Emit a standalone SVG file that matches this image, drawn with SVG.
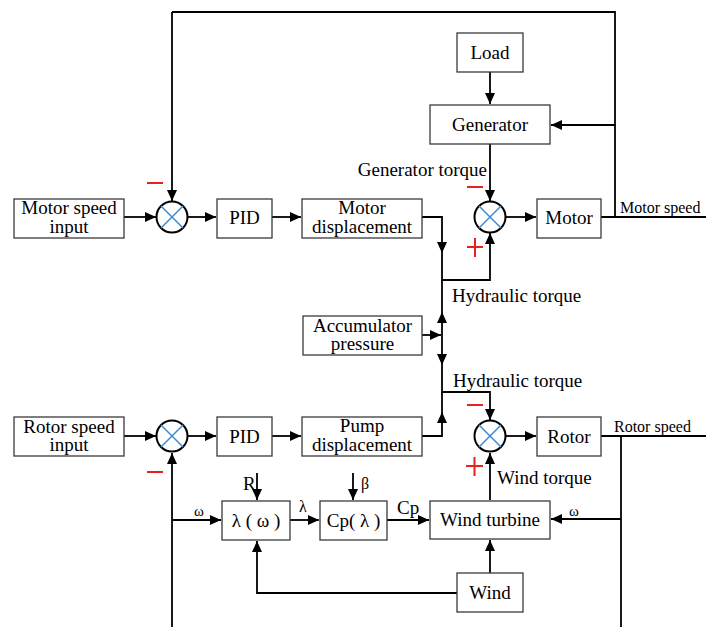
<svg xmlns="http://www.w3.org/2000/svg" width="706" height="627" viewBox="0 0 706 627">
<defs>
<marker id="ah" markerUnits="userSpaceOnUse" markerWidth="12" markerHeight="10" refX="11" refY="5" orient="auto">
<path d="M0,0 L11,5 L0,10 Z" fill="#000"/>
</marker>
<style>
.box{fill:#fff;stroke:#3a3a3a;stroke-width:1.3}
.t{font-family:"Liberation Serif","Times New Roman","DejaVu Serif",serif;font-size:19px;fill:#000;text-anchor:middle}
.l{font-family:"Liberation Serif","Times New Roman","DejaVu Serif",serif;font-size:19px;fill:#000}
.s{font-family:"Liberation Serif","Times New Roman","DejaVu Serif",serif;font-size:16px;fill:#000}
.w{font-family:"Liberation Serif","Times New Roman","DejaVu Serif",serif;font-size:15px;fill:#000}
.c{fill:none;stroke:#000;stroke-width:1.8}
.a{fill:none;stroke:#000;stroke-width:1.8;marker-end:url(#ah)}
.sum{fill:#fff;stroke:#000;stroke-width:2}
.x{stroke:#3c8ad0;stroke-width:1.5}
.r{stroke:#e8211d;stroke-width:2;fill:none}
</style>
</defs>
<g id="connectors">
<path class="c" d="M172,12 H615 V217"/>
<path class="a" d="M172,12 V201"/>
<path class="a" d="M615,125 H551"/>
<path class="a" d="M490,72 V104"/>
<path class="a" d="M490,144 V201"/>
<path class="c" d="M601,217 H706"/>
<path class="a" d="M124,217 H156"/>
<path class="a" d="M188,217 H216"/>
<path class="a" d="M272,217 H301"/>
<path class="a" d="M506,217 H536"/>
<path class="a" d="M422,217 H442 V253"/>
<path class="a" d="M442,253 V280 H490 V233"/>
<path class="a" d="M422,335 H441"/>
<path class="a" d="M442,335 V312"/>
<path class="c" d="M442,312 V280"/>
<path class="a" d="M442,335 V365"/>
<path class="a" d="M442,365 V392 H490 V420"/>
<path class="a" d="M422,436 H442 V412"/>
<path class="c" d="M442,412 V392"/>
<path class="a" d="M124,436 H156"/>
<path class="a" d="M188,436 H216"/>
<path class="a" d="M272,436 H301"/>
<path class="a" d="M506,436 H536"/>
<path class="c" d="M601,436 H706"/>
<path class="c" d="M621,436 V627"/>
<path class="a" d="M621,519 H551"/>
<path class="a" d="M490,500 V453"/>
<path class="a" d="M490,573 V540"/>
<path class="a" d="M457,593 H257 V541"/>
<path class="a" d="M172,627 V453"/>
<path class="a" d="M172,520 H221"/>
<path class="a" d="M290,520 H319"/>
<path class="a" d="M387,520 H429"/>
<path class="a" d="M257,473 V500"/>
<path class="a" d="M353,473 V500"/>
</g>
<g id="sum1"><circle class="sum" cx="172" cy="217" r="15.5"/><path class="x" d="M161,206 L183,228 M183,206 L161,228"/></g>
<g id="sum2"><circle class="sum" cx="490" cy="217" r="15.5"/><path class="x" d="M479,206 L501,228 M501,206 L479,228"/></g>
<g id="sum3"><circle class="sum" cx="172" cy="436" r="15.5"/><path class="x" d="M161,425 L183,447 M183,425 L161,447"/></g>
<g id="sum4"><circle class="sum" cx="490" cy="436" r="15.5"/><path class="x" d="M479,425 L501,447 M501,425 L479,447"/></g>
<g id="signs">
<path class="r" d="M147,183 H163"/>
<path class="r" d="M467,187 H483"/>
<path class="r" d="M467,247 H483 M475,238 V257"/>
<path class="r" d="M467,405 H483"/>
<path class="r" d="M466,466 H483 M474.5,457 V476"/>
<path class="r" d="M147,472 H163"/>
</g>
<g id="load"><rect class="box" x="457" y="33" width="66" height="39"/><text class="t" x="490" y="59">Load</text></g>
<g id="generator"><rect class="box" x="430" y="105" width="120" height="39"/><text class="t" x="490" y="131">Generator</text></g>
<g id="motor-speed-input"><rect class="box" x="14" y="199" width="110" height="39"/><text class="t" x="69" y="214">Motor speed</text><text class="t" x="69" y="232.5">input</text></g>
<g id="pid1"><rect class="box" x="217" y="199" width="55" height="39"/><text class="t" x="244.5" y="224">PID</text></g>
<g id="motor-displacement"><rect class="box" x="302" y="199" width="120" height="39"/><text class="t" x="362" y="214">Motor</text><text class="t" x="362" y="232.5">displacement</text></g>
<g id="motor"><rect class="box" x="537" y="199" width="64" height="39"/><text class="t" x="569" y="224">Motor</text></g>
<g id="accumulator"><rect class="box" x="303" y="316" width="119" height="39"/><text class="t" x="362.5" y="331.5">Accumulator</text><text class="t" x="362.5" y="349.5">pressure</text></g>
<g id="rotor-speed-input"><rect class="box" x="14" y="417" width="110" height="39"/><text class="t" x="69" y="432.5">Rotor speed</text><text class="t" x="69" y="450.5">input</text></g>
<g id="pid2"><rect class="box" x="217" y="417" width="55" height="39"/><text class="t" x="244.5" y="443">PID</text></g>
<g id="pump-displacement"><rect class="box" x="302" y="417" width="120" height="39"/><text class="t" x="362" y="432">Pump</text><text class="t" x="362" y="450.5">displacement</text></g>
<g id="rotor"><rect class="box" x="537" y="417" width="64" height="39"/><text class="t" x="569" y="443">Rotor</text></g>
<g id="lambda"><rect class="box" x="222" y="501" width="68" height="39"/><text class="t" x="256" y="527">λ ( ω )</text></g>
<g id="cp"><rect class="box" x="320" y="501" width="67" height="39"/><text class="t" x="353.5" y="527">Cp( λ )</text></g>
<g id="wind-turbine"><rect class="box" x="430" y="501" width="120" height="38"/><text class="t" x="490" y="526">Wind turbine</text></g>
<g id="wind"><rect class="box" x="457" y="573" width="66" height="39"/><text class="t" x="490" y="599">Wind</text></g>
<g id="labels">
<text class="l" x="487" y="176" text-anchor="end">Generator torque</text>
<text class="l" x="452" y="302">Hydraulic torque</text>
<text class="l" x="453" y="387">Hydraulic torque</text>
<text class="l" x="497" y="484">Wind torque</text>
<text class="s" x="620" y="213">Motor speed</text>
<text class="s" x="614" y="432">Rotor speed</text>
<text class="w" x="194" y="516">ω</text>
<text class="w" x="569" y="516">ω</text>
<text class="s" x="299" y="512">λ</text>
<text class="s" x="361" y="489">β</text>
<text class="l" x="243" y="490">R</text>
<text class="l" x="397" y="514">Cp</text>
</g>
</svg>
